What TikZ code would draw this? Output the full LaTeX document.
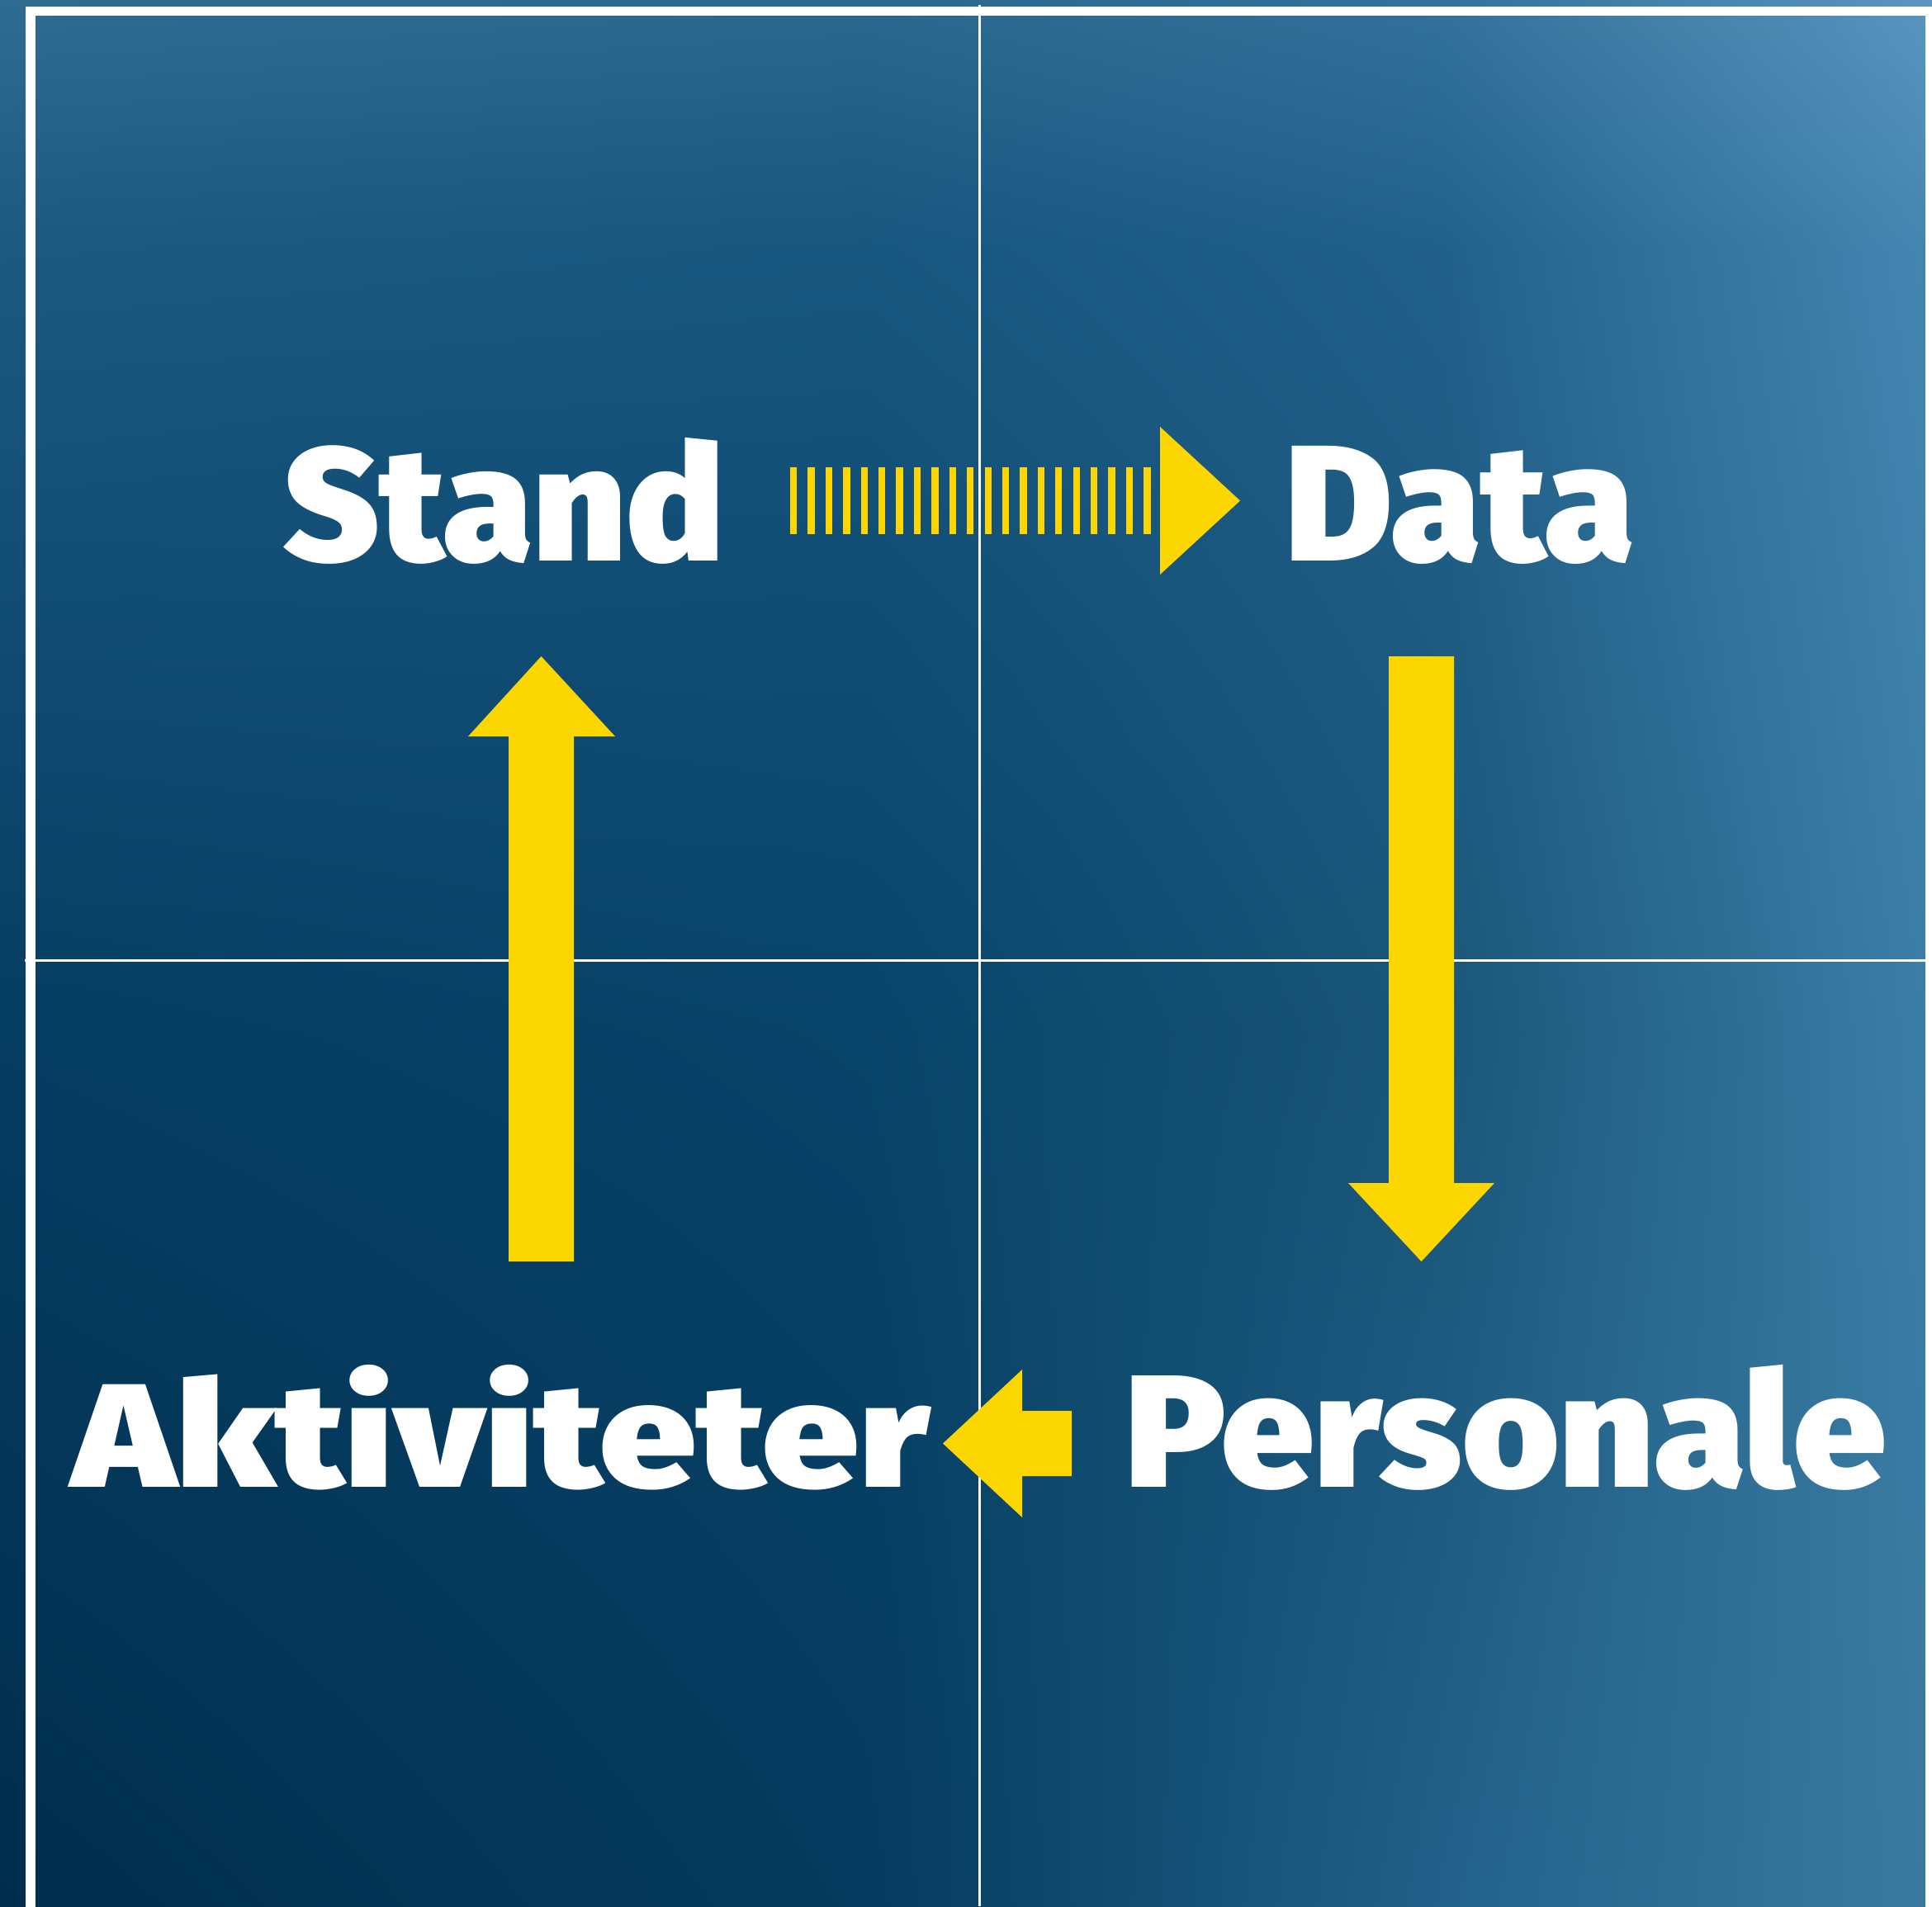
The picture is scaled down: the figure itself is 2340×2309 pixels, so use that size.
\documentclass[tikz,border=0pt]{standalone}
\usepackage{fontspec}
\usepackage{graphicx}
\usetikzlibrary{shadings}
\IfFontExistsTF{Fira Sans Black}{\newfontfamily\lblfont{Fira Sans Black}}{\newfontfamily\lblfont{Fira Sans}[UprightFont={* Bold}]}
\definecolor{ayellow}{RGB}{252,214,0}
\definecolor{cAa}{HTML}{2F6C92}\definecolor{cAb}{HTML}{2A6890}\definecolor{cAc}{HTML}{33729A}\definecolor{cAd}{HTML}{5A96BF}
\definecolor{cBa}{HTML}{1B5981}\definecolor{cBb}{HTML}{17567E}\definecolor{cBc}{HTML}{21608A}\definecolor{cBd}{HTML}{4486B2}
\definecolor{cCa}{HTML}{063D62}\definecolor{cCb}{HTML}{084369}\definecolor{cCc}{HTML}{1A5679}\definecolor{cCd}{HTML}{3B7EA8}
\definecolor{cDa}{HTML}{002D4C}\definecolor{cDb}{HTML}{053B5E}\definecolor{cDc}{HTML}{22618A}\definecolor{cDd}{HTML}{3A7AA0}
\newcommand\bgcell[8]{\shade[upper left=#5,upper right=#6,lower left=#7,lower right=#8] (#1,#2) rectangle (#3,#4);}
\begin{document}
\begin{tikzpicture}[x=0.01cm,y=-0.01cm,
  blockarrow/.style={fill=ayellow},
  gridline/.style={draw=white,line width=0.03cm},
  lbl/.style={text=white,anchor=base west,inner sep=0pt,outer sep=0pt}]
\useasboundingbox (0,0) rectangle (2340,2309);
% background: piecewise bilinear gradient
\bgcell{0}{0}{1051}{301}{cAa}{cAb}{cBa}{cBb}
\bgcell{1050}{0}{1751}{301}{cAb}{cAc}{cBb}{cBc}
\bgcell{1750}{0}{2340}{301}{cAc}{cAd}{cBc}{cBd}
\bgcell{0}{300}{1051}{1251}{cBa}{cBb}{cCa}{cCb}
\bgcell{1050}{300}{1751}{1251}{cBb}{cBc}{cCb}{cCc}
\bgcell{1750}{300}{2340}{1251}{cBc}{cBd}{cCc}{cCd}
\bgcell{0}{1250}{1051}{2309}{cCa}{cCb}{cDa}{cDb}
\bgcell{1050}{1250}{1751}{2309}{cCb}{cCc}{cDb}{cDc}
\bgcell{1750}{1250}{2340}{2309}{cCc}{cCd}{cDc}{cDd}
% frame and grid
\draw[white,line width=0.11cm] (37,13.5) rectangle (2337,2340);
\draw[gridline] (1186.5,6) -- (1186.5,2309);
\draw[gridline] (30,1163.5) -- (2334,1163.5);
% labels
\node[lbl] (stand) at (343,679) {\resizebox{5.34cm}{1.49cm}{\lblfont Stand}};
\node[lbl] (data) at (1556,679) {\resizebox{4.23cm}{1.39cm}{\lblfont Data}};
\node[lbl] (akt) at (87,1801) {\resizebox{10.38cm}{1.48cm}{\lblfont Aktiviteter}};
\node[lbl] (pers) at (1362,1801) {\resizebox{9.21cm}{1.48cm}{\lblfont Personale}};
% dashed arrow Stand -> Data
\draw[ayellow,line width=0.8cm,dash pattern=on 0.083cm off 0.131cm] (957,606.5) -- (1394,606.5);
\fill[blockarrow] (1405,517) -- (1502,606.5) -- (1405,696) -- cycle;
% Data -> Personale
\fill[blockarrow] (1682,795) -- (1761,795) -- (1761,1433) -- (1810,1433) -- (1721.5,1528) -- (1633,1433) -- (1682,1433) -- cycle;
% Personale -> Aktiviteter
\fill[blockarrow] (1298,1709) -- (1238,1709) -- (1238,1659) -- (1142,1748.5) -- (1238,1838) -- (1238,1788) -- (1298,1788) -- cycle;
% Aktiviteter -> Stand
\fill[blockarrow] (616,1528) -- (616,892) -- (567,892) -- (655.5,795) -- (745,892) -- (695,892) -- (695,1528) -- cycle;
\end{tikzpicture}
\end{document}
